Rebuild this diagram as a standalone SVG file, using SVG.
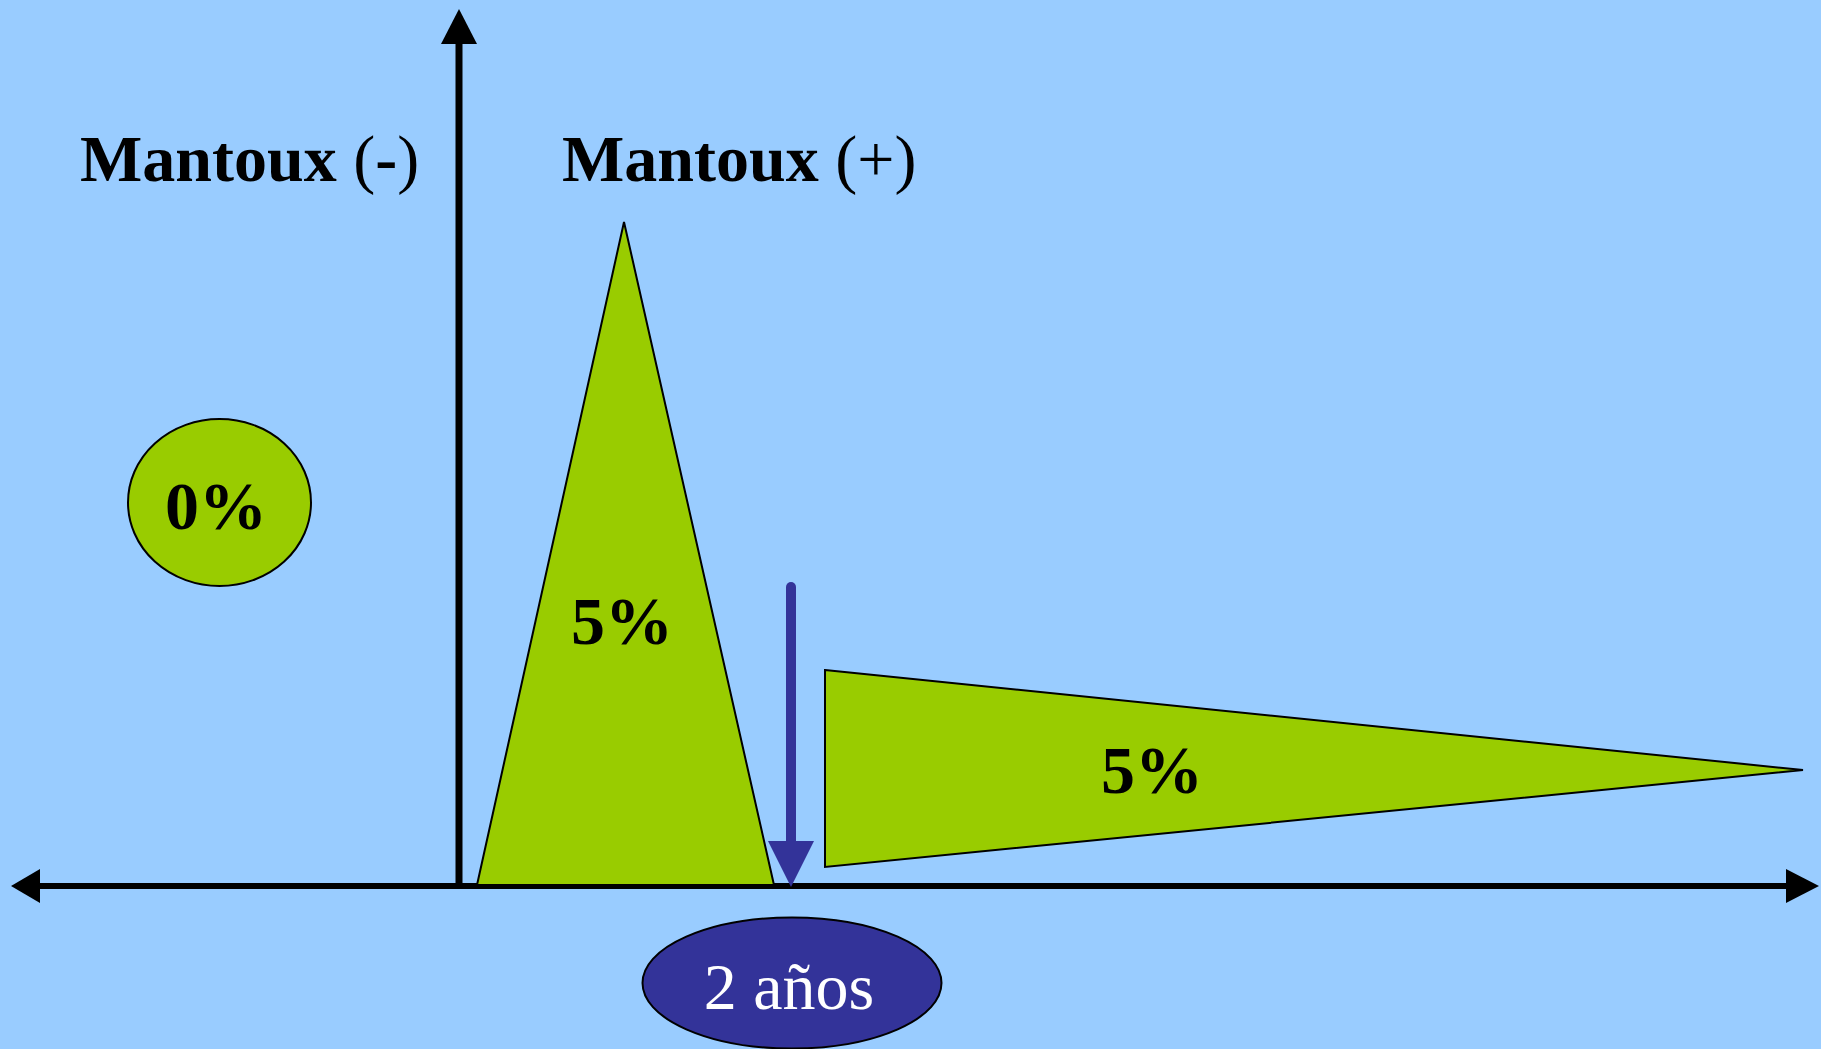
<svg xmlns="http://www.w3.org/2000/svg" width="1821" height="1049" viewBox="0 0 1821 1049">
<style>
.lbl{font-family:"Liberation Serif","Times New Roman",serif;font-size:66px;fill:#000}
.pct{font-size:68px}
.b{font-weight:bold}
.shape{fill:#99CC00;stroke:#000;stroke-width:2}
.axis{stroke:#000;stroke-width:7;fill:none}
</style>
<rect x="0" y="0" width="1821" height="1049" fill="#99CCFF"/>
<g id="connectors">
<line class="axis" x1="459" y1="40" x2="459" y2="888"/>
<polygon points="459,9 441,44 477,44" fill="#000"/>
<line x1="36" y1="886" x2="1790" y2="886" stroke="#000" stroke-width="6"/>
<polygon points="11,886 40,869 40,903" fill="#000"/>
<polygon points="1819,886 1786,869 1786,903" fill="#000"/>
</g>
<g id="tri1">
<polygon class="shape" points="477,885 624,222 774,885"/>
<text class="lbl pct b" x="622" y="644" text-anchor="middle">5%</text>
</g>
<g id="tri2">
<polygon class="shape" points="825,670 1803,770 825,867"/>
<text class="lbl pct b" x="1152" y="793" text-anchor="middle">5%</text>
</g>
<g id="arrow2">
<line x1="791" y1="587" x2="791" y2="845" stroke="#333399" stroke-width="10" stroke-linecap="round"/>
<polygon points="768,841 814,841 791,887" fill="#333399"/>
</g>
<g id="zero">
<ellipse class="shape" cx="219.5" cy="502.5" rx="91.5" ry="83.5"/>
<text class="lbl pct b" x="216" y="529" text-anchor="middle">0%</text>
</g>
<g id="neg">
<text class="lbl" x="80" y="181"><tspan class="b">Mantoux</tspan> (<tspan class="b">-</tspan>)</text>
</g>
<g id="pos">
<text class="lbl" x="562" y="181"><tspan class="b">Mantoux</tspan> (+)</text>
</g>
<g id="years">
<ellipse cx="792" cy="983" rx="149.5" ry="65.5" fill="#333399" stroke="#000" stroke-width="2"/>
<text class="lbl" x="789" y="1009" text-anchor="middle" style="fill:#fff">2 años</text>
</g>
</svg>
